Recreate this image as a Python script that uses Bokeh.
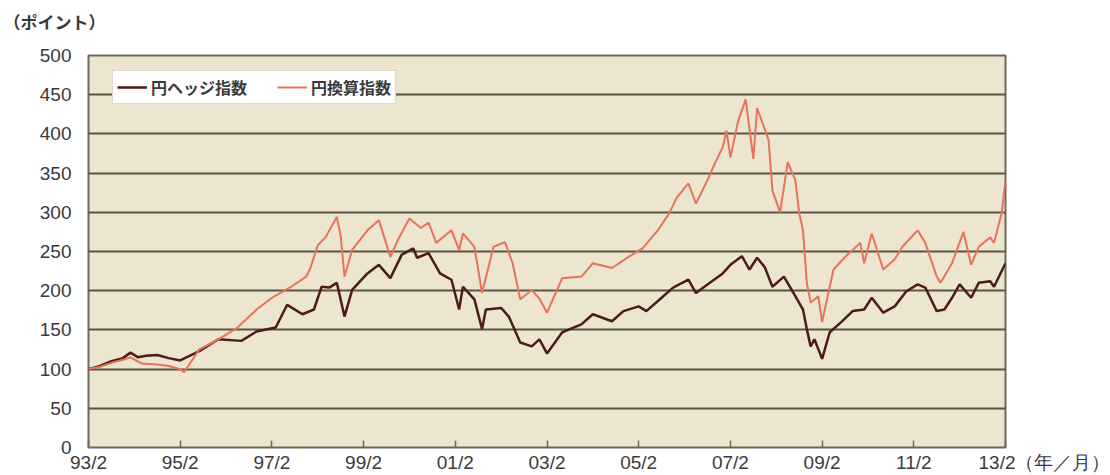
from bokeh.plotting import figure
from bokeh.models import FixedTicker, Legend, LegendItem, Range1d, Title
from bokeh.embed import file_html
from bokeh.resources import INLINE

# ---------------- data ----------------
hedge_dates = ["1993-02", "1993-05", "1993-08", "1993-11", "1994-01", "1994-03", "1994-05", "1994-08",
               "1994-11", "1995-02", "1995-07", "1995-12", "1996-06", "1996-10", "1997-03", "1997-06",
               "1997-10", "1998-01", "1998-03", "1998-05", "1998-07", "1998-09", "1998-11", "1999-03",
               "1999-06", "1999-09", "1999-12", "2000-03", "2000-04", "2000-07", "2000-10", "2001-01",
               "2001-03", "2001-04", "2001-07", "2001-09", "2001-10", "2002-02", "2002-04", "2002-07",
               "2002-10", "2002-12", "2003-02", "2003-06", "2003-11", "2004-02", "2004-07", "2004-10",
               "2005-02", "2005-04", "2005-08", "2005-11", "2006-03", "2006-05", "2006-08", "2006-12",
               "2007-02", "2007-05", "2007-07", "2007-09", "2007-11", "2008-01", "2008-04", "2008-07",
               "2008-09", "2008-10", "2008-11", "2008-12", "2009-02", "2009-04", "2009-07", "2009-10",
               "2010-01", "2010-03", "2010-06", "2010-09", "2010-12", "2011-03", "2011-05", "2011-08",
               "2011-10", "2011-12", "2012-02", "2012-05", "2012-07", "2012-10", "2012-11", "2013-02"]
hedge_vals = [100, 104, 110, 114, 121, 115, 117, 118,
              114, 111, 123, 138, 136, 148, 153, 182,
              170, 176, 205, 204, 210, 167, 201, 222,
              233, 216, 246, 254, 242, 248, 222, 214,
              176, 205, 189, 151, 176, 178, 167, 134,
              129, 138, 120, 147, 157, 170, 161, 174,
              180, 174, 191, 204, 214, 197, 208, 222,
              233, 244, 227, 242, 230, 205, 218, 193,
              176, 151, 129, 138, 113, 147, 160, 174,
              176, 191, 172, 180, 199, 208, 204, 174,
              176, 191, 208, 191, 210, 212, 205, 235]

conv_dates = ["1993-02", "1993-05", "1993-08", "1993-11", "1994-01", "1994-04", "1994-08", "1994-11",
              "1995-02", "1995-03", "1995-07", "1995-12", "1996-05", "1996-10", "1997-02", "1997-07",
              "1997-11", "1997-12", "1998-02", "1998-04", "1998-07", "1998-08", "1998-09", "1998-11",
              "1999-03", "1999-06", "1999-09", "1999-11", "2000-02", "2000-05", "2000-07", "2000-09",
              "2001-01", "2001-03", "2001-04", "2001-07", "2001-09", "2001-12", "2002-03", "2002-05",
              "2002-07", "2002-10", "2002-12", "2003-02", "2003-05", "2003-06", "2003-11", "2004-02",
              "2004-07", "2004-11", "2005-03", "2005-07", "2005-10", "2005-12", "2006-03", "2006-05",
              "2006-08", "2006-10", "2006-12", "2007-01", "2007-02", "2007-04", "2007-06", "2007-08",
              "2007-09", "2007-12", "2008-01", "2008-03", "2008-05", "2008-07", "2008-08", "2008-09",
              "2008-10", "2008-11", "2009-01", "2009-02", "2009-04", "2009-05", "2009-08", "2009-12",
              "2010-01", "2010-03", "2010-06", "2010-09", "2010-11", "2011-03", "2011-05", "2011-08",
              "2011-09", "2011-12", "2012-03", "2012-05", "2012-07", "2012-10", "2012-11", "2013-01",
              "2013-02"]
conv_vals = [100, 103, 108, 112, 115, 107, 106, 104,
             100, 96, 125, 138, 153, 176, 191, 205,
             218, 228, 258, 268, 294, 270, 218, 252,
             277, 290, 243, 265, 292, 280, 287, 261,
             277, 252, 273, 256, 197, 256, 262, 235,
             189, 201, 190, 172, 205, 216, 218, 235,
             229, 242, 254, 277, 299, 319, 337, 311,
             341, 363, 383, 404, 370, 416, 444, 368,
             433, 392, 328, 300, 364, 341, 299, 277,
             210, 185, 193, 160, 205, 227, 243, 261,
             235, 273, 227, 240, 256, 277, 261, 218,
             210, 235, 275, 233, 256, 268, 261, 299,
             341]

tick_labels = ["93/2", "95/2", "97/2", "99/2", "01/2", "03/2", "05/2", "07/2", "09/2", "11/2", "13/2"]
y_ticks = [0, 50, 100, 150, 200, 250, 300, 350, 400, 450, 500]
series_names = ["円ヘッジ指数", "円換算指数"]
y_unit = "（ポイント）"
x_unit = "（年／月）"


def month_index(s):
    y, m = s.split("-")
    return (int(y) - 1993) * 12 + int(m) - 2


hx = [month_index(d) for d in hedge_dates]
cx = [month_index(d) for d in conv_dates]

JP = "Noto Sans CJK JP"
NUM = "Liberation Sans"
TXT = "#3a3a3a"

p = figure(width=1110, height=475, x_range=Range1d(0, 240), y_range=Range1d(0, 500),
           output_backend="svg", toolbar_location=None,
           min_border_left=88, min_border_top=55, min_border_right=105, min_border_bottom=26,
           background_fill_color="#ece5cf", border_fill_color="white")

p.title.text = y_unit
p.title.align = "left"
p.title.offset = -85
p.title.standoff = 0
p.title.text_font = JP
p.title.text_font_style = "bold"
p.title.text_font_size = "17px"
p.title.text_color = TXT

# blank spacer title next to the frame lifts the unit title to the top edge
p.add_layout(Title(text="\u3000", standoff=0, text_font=JP, text_font_size="14px",
                   text_color="white"), "above")

p.outline_line_color = "#6e685a"
p.outline_line_width = 2

p.xgrid.visible = False
p.ygrid.ticker = FixedTicker(ticks=y_ticks)
p.ygrid.grid_line_color = "#5a5444"
p.ygrid.grid_line_width = 2

p.yaxis.ticker = FixedTicker(ticks=y_ticks)
p.yaxis.axis_line_color = None
p.yaxis.major_tick_line_color = None
p.yaxis.minor_tick_line_color = None
p.yaxis.major_label_standoff = 11
p.yaxis.major_label_text_font = NUM
p.yaxis.major_label_text_font_size = "19px"
p.yaxis.major_label_text_color = TXT

xt = list(range(0, 241, 24))
labels = {t: lab for t, lab in zip(xt, tick_labels)}
# unit text follows the last tick label; ideographic spaces of equal width keep "13/2" centred on its tick
labels[240] = "\u3000" * len(x_unit) + tick_labels[-1] + x_unit
p.xaxis.ticker = FixedTicker(ticks=xt)
p.xaxis.major_label_overrides = labels
p.xaxis.axis_line_color = None
p.xaxis.major_tick_in = 7
p.xaxis.major_tick_out = 0
p.xaxis.major_tick_line_color = "#6e685a"
p.xaxis.major_tick_line_width = 1.5
p.xaxis.minor_tick_line_color = None
p.xaxis.major_label_standoff = 4
p.xaxis.major_label_text_font = NUM
p.xaxis.major_label_text_font_size = "19px"
p.xaxis.major_label_text_color = TXT

r1 = p.line(hx, hedge_vals, line_color="#4a1c1c", line_width=2.5)
r2 = p.line(cx, conv_vals, line_color="#e8735c", line_width=2)

legend = Legend(items=[LegendItem(label=series_names[0], renderers=[r1]),
                       LegendItem(label=series_names[1], renderers=[r2])],
                orientation="horizontal", location=(24, 343))
legend.label_text_font = JP
legend.label_text_font_style = "bold"
legend.label_text_font_size = "16px"
legend.label_text_color = TXT
legend.glyph_width = 30
legend.glyph_height = 16
legend.label_standoff = 4
legend.spacing = 30
legend.padding = 4
legend.margin = 0
legend.border_line_color = "#d9a39a"
legend.border_line_width = 1
legend.background_fill_color = "white"
legend.background_fill_alpha = 1
p.add_layout(legend)

open("out.html", "w").write(file_html(p, INLINE))
